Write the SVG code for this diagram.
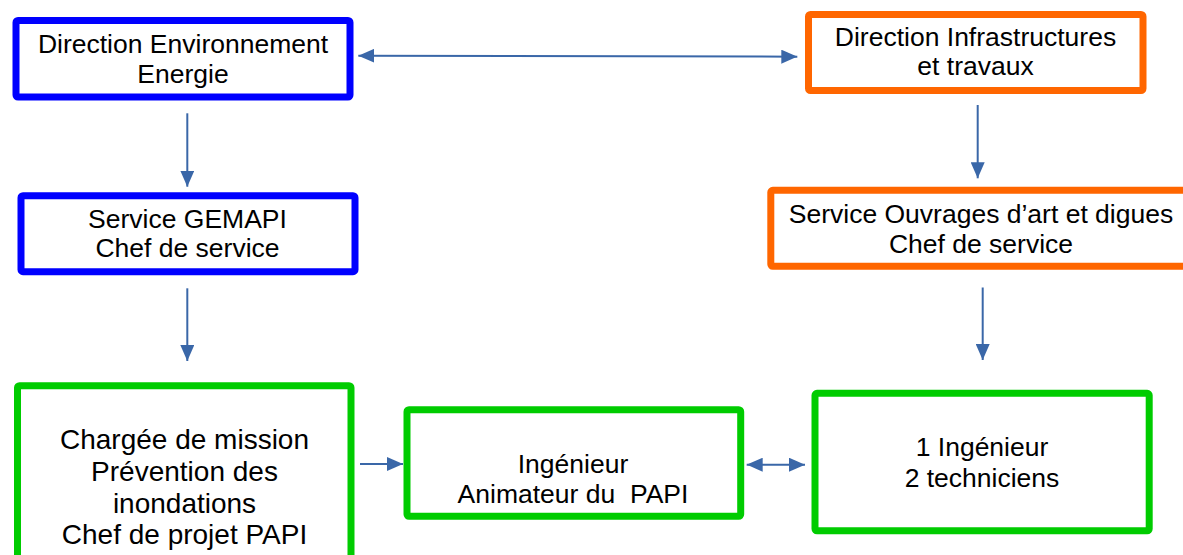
<svg xmlns="http://www.w3.org/2000/svg" width="1183" height="555" viewBox="0 0 1183 555">
  <defs>
    <style>
      .box { fill: #ffffff; stroke-width: 7; }
      .blue { stroke: #0000ff; }
      .orange { stroke: #ff6600; }
      .green { stroke: #00cc00; }
      .lbl { font-family: "Liberation Sans", Arial, sans-serif; font-size: 26.5px; fill: #000000; text-anchor: middle; white-space: pre; }
      .big { font-size: 28px; }
      .conn { stroke: #3a67a8; stroke-width: 2; fill: none; }
    </style>
    <marker id="ah" markerUnits="userSpaceOnUse" markerWidth="16" markerHeight="14" refX="16" refY="7" orient="auto-start-reverse" viewBox="0 0 16 14">
      <path d="M0,0 L16,7 L0,14 z" fill="#3a67a8"/>
    </marker>
  </defs>
  <rect width="1183" height="555" fill="#ffffff"/>

  <g id="n-dir-env">
    <rect class="box blue" x="16" y="20.5" width="334" height="76.5" rx="2"/>
    <text class="lbl" x="183" y="53">Direction Environnement</text>
    <text class="lbl" x="183" y="82.5">Energie</text>
  </g>

  <g id="n-dir-infra">
    <rect class="box orange" x="808.5" y="14.5" width="334.5" height="76" rx="2"/>
    <text class="lbl" x="975.5" y="45.7">Direction Infrastructures</text>
    <text class="lbl" x="975.5" y="75">et travaux</text>
  </g>

  <g id="n-gemapi">
    <rect class="box blue" x="21" y="195.7" width="334" height="76" rx="2"/>
    <text class="lbl" x="187.5" y="227.7">Service GEMAPI</text>
    <text class="lbl" x="187.5" y="257.3">Chef de service</text>
  </g>

  <g id="n-ouvrages">
    <rect class="box orange" x="770.8" y="190.3" width="420" height="76" rx="2"/>
    <text class="lbl" x="981" y="223.3">Service Ouvrages d’art et digues</text>
    <text class="lbl" x="981" y="252.7">Chef de service</text>
  </g>

  <g id="n-chargee">
    <rect class="box green" x="17.5" y="385.7" width="333.5" height="200" rx="2"/>
    <text class="lbl big" x="184.5" y="449">Chargée de mission</text>
    <text class="lbl big" x="184.5" y="480.5">Prévention des</text>
    <text class="lbl big" x="184.5" y="512.5">inondations</text>
    <text class="lbl big" x="184.5" y="544">Chef de projet PAPI</text>
  </g>

  <g id="n-animateur">
    <rect class="box green" x="407" y="409.7" width="333.7" height="106.6" rx="2"/>
    <text class="lbl" x="573" y="472.7">Ingénieur</text>
    <text class="lbl" x="573" y="502.7">Animateur du  PAPI</text>
  </g>

  <g id="n-equipe">
    <rect class="box green" x="815" y="393.3" width="334.2" height="137.5" rx="2"/>
    <text class="lbl" x="982" y="456">1 Ingénieur</text>
    <text class="lbl" x="982" y="487.3">2 techniciens</text>
  </g>

  <g id="connectors">
    <line class="conn" x1="358.3" y1="55.7" x2="797.3" y2="56.7" marker-start="url(#ah)" marker-end="url(#ah)"/>
    <line class="conn" x1="187.3" y1="113.3" x2="187.3" y2="186.7" marker-end="url(#ah)"/>
    <line class="conn" x1="187.3" y1="288.3" x2="187.3" y2="361" marker-end="url(#ah)"/>
    <line class="conn" x1="977.7" y1="105" x2="977.7" y2="178.3" marker-end="url(#ah)"/>
    <line class="conn" x1="982.7" y1="287.5" x2="982.7" y2="360" marker-end="url(#ah)"/>
    <line class="conn" x1="360" y1="464" x2="403" y2="464" marker-end="url(#ah)"/>
    <line class="conn" x1="746.7" y1="464.7" x2="805" y2="464.7" marker-start="url(#ah)" marker-end="url(#ah)"/>
  </g>
</svg>
